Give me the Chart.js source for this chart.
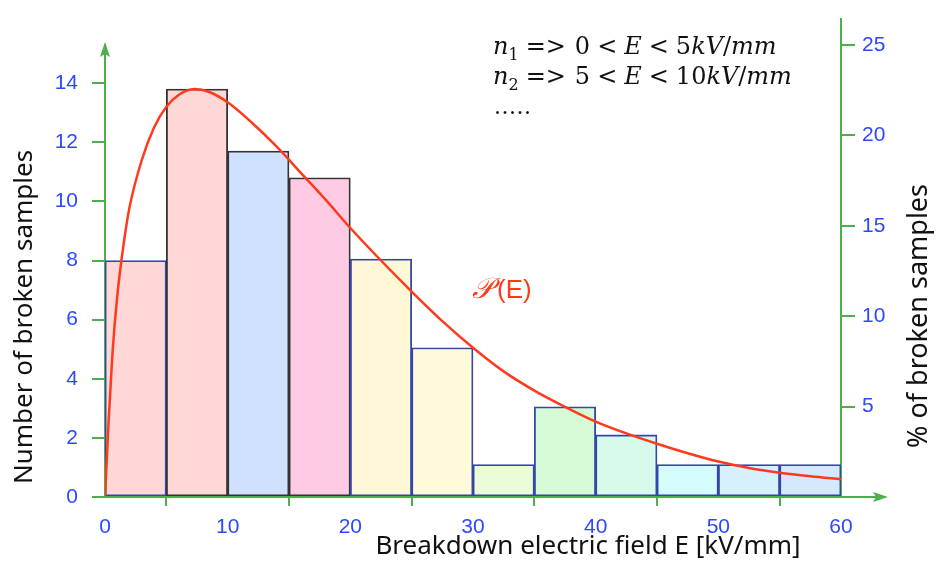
<!DOCTYPE html>
<html>
<head>
<meta charset="utf-8">
<script src="https://cdn.jsdelivr.net/npm/chart.js@4/dist/chart.umd.min.js"></script>
<style>
  html, body { margin: 0; padding: 0; background: #fff; }
  #wrap { width: 936px; height: 569px; position: relative; }
</style>
</head>
<body>
<div id="wrap"><canvas id="histChart"></canvas></div>
<script>
// histogram bins (kV/mm) and number of broken samples per bin
const binStarts = [0, 5, 10, 15, 20, 25, 30, 35, 40, 45, 50, 55];
const binWidth = 5;
const counts = [8, 13.8, 11.7, 10.8, 8.05, 5.05, 1.1, 3.05, 2.1, 1.1, 1.1, 1.1];

// fitted distribution P(E)
const curveE = [0, 0.3, 0.6, 1, 1.5, 2, 3, 4, 5, 6, 7.3, 8.5, 10, 12, 14, 16, 18, 20, 22.5, 25,
                27.5, 30, 32.5, 35, 37.5, 40, 42.5, 45, 47.5, 50, 52.5, 55, 57.5, 60];
const curveN = [0, 2.6, 4.8, 6.8, 8.5, 9.8, 11.4, 12.5, 13.2, 13.6, 13.8, 13.7, 13.35, 12.65, 11.85, 10.95, 10.05, 9.1, 8.0, 6.95,
                5.95, 5.05, 4.25, 3.6, 3.05, 2.55, 2.15, 1.8, 1.48, 1.2, 0.98, 0.82, 0.7, 0.6];

// tick labels
const xTicks = [0, 10, 20, 30, 40, 50, 60];
const leftTicks = [0, 2, 4, 6, 8, 10, 12, 14];
const rightTicks = [5, 10, 15, 20, 25];

const barFills = ['#ffd7d7', '#ffd7d7', '#d0e0ff', '#ffcae3', '#fff7d6', '#fffbd8', '#eafcd8',
                  '#d6fad6', '#d6fbea', '#d6fdfd', '#d6f1fd', '#d6e8fb'];
const barEdges = ['#3446a8', '#333333', '#333333', '#333333', '#3446a8', '#3446a8', '#3446a8',
                  '#3446a8', '#3446a8', '#3446a8', '#3446a8', '#3446a8'];

const green = '#4cae4c';
const blue = '#2d48ff';

const decor = {
    id: 'decor',
    afterDraw(chart) {
        const ctx = chart.ctx;
        const a = chart.chartArea;
        const x0 = chart.scales.x.getPixelForValue(0);
        const x60 = chart.scales.x.getPixelForValue(60);
        ctx.save();
        ctx.strokeStyle = green;
        ctx.fillStyle = green;
        ctx.lineWidth = 2;

        // x axis extension with arrow
        ctx.beginPath();
        ctx.moveTo(92, a.bottom);
        ctx.lineTo(878, a.bottom);
        ctx.stroke();
        ctx.beginPath();
        ctx.moveTo(888, a.bottom);
        ctx.lineTo(873, a.bottom - 5);
        ctx.lineTo(876, a.bottom);
        ctx.lineTo(873, a.bottom + 5);
        ctx.closePath();
        ctx.fill();

        // left axis arrow
        ctx.beginPath();
        ctx.moveTo(x0, a.top - 3);
        ctx.lineTo(x0 - 5, a.top + 12);
        ctx.lineTo(x0, a.top + 9);
        ctx.lineTo(x0 + 5, a.top + 12);
        ctx.closePath();
        ctx.fill();

        // right axis runs past 25 %
        ctx.beginPath();
        ctx.moveTo(x60, a.top);
        ctx.lineTo(x60, 18);
        ctx.stroke();

        // axis titles
        ctx.fillStyle = '#111';
        ctx.font = '26px "Noto Sans"';
        ctx.textAlign = 'center';
        ctx.textBaseline = 'middle';
        ctx.fillText('Breakdown electric field E [kV/mm]', 588, 547);
        ctx.save();
        ctx.translate(25, 317);
        ctx.rotate(-Math.PI / 2);
        ctx.fillText('Number of broken samples', 0, 0);
        ctx.restore();
        ctx.save();
        ctx.font = '27px "Noto Sans"';
        ctx.translate(919, 316);
        ctx.rotate(-Math.PI / 2);
        ctx.fillText('% of broken samples', 0, 0);
        ctx.restore();

        // curve label
        ctx.fillStyle = '#ff3a1c';
        ctx.textAlign = 'left';
        ctx.textBaseline = 'alphabetic';
        ctx.font = 'italic 29px "Liberation Serif"';
        ctx.fillText('\u{1D4AB}', 472, 298);
        ctx.font = '26px "Liberation Sans"';
        ctx.fillText('(E)', 497, 298);

        // bin legend
        drawRich(ctx, 493, 54, [['n', 'i'], ['1', 's'], [7], ['=>', 'r'], [9], ['0', 'r'], [7], ['<', 'r'], [7],
                                ['E', 'i'], [7], ['<', 'r'], [7], ['5', 'r'], ['kV', 'i'], ['/', 'r'], ['mm', 'i']]);
        drawRich(ctx, 493, 84, [['n', 'i'], ['2', 's'], [7], ['=>', 'r'], [9], ['5', 'r'], [7], ['<', 'r'], [7],
                                ['E', 'i'], [7], ['<', 'r'], [7], ['10', 'r'], ['kV', 'i'], ['/', 'r'], ['mm', 'i']]);
        drawRich(ctx, 494, 114, [['.....', 'd']]);
        ctx.restore();
    }
};

// draws a line of math-like text; a one-element entry is a gap in px
function drawRich(ctx, x, y, parts) {
    ctx.fillStyle = '#111';
    ctx.textAlign = 'left';
    ctx.textBaseline = 'alphabetic';
    for (const [txt, st] of parts) {
        if (st === undefined) { x += txt; continue; }
        ctx.letterSpacing = '0px';
        if (st === 'i') ctx.font = 'italic 24px "DejaVu Serif"';
        else if (st === 's') ctx.font = '16px "DejaVu Serif"';
        else if (st === 'd') { ctx.font = '22px "DejaVu Serif"'; ctx.letterSpacing = '0.5px'; }
        else ctx.font = '24px "DejaVu Serif"';
        ctx.fillText(txt, x, st === 's' ? y + 6 : y);
        x += ctx.measureText(txt).width;
    }
    ctx.letterSpacing = '0px';
}

const tickFont = { family: '"Liberation Sans", Arial, sans-serif', size: 21 };

const ctx = document.getElementById('histChart').getContext('2d');
new Chart(ctx, {
    type: 'bar',
    data: {
        datasets: [{
            type: 'line',
            data: curveE.map((e, i) => ({ x: e, y: curveN[i] })),
            borderColor: '#ff3a1c',
            borderWidth: 2.5,
            pointRadius: 0,
            cubicInterpolationMode: 'monotone',
            yAxisID: 'y',
            order: 0
        }, {
            data: binStarts.map((s, i) => ({ x: s + binWidth / 2, y: counts[i] })),
            backgroundColor: barFills,
            borderColor: barEdges,
            borderWidth: 1.8,
            borderSkipped: false,
            barPercentage: 1,
            categoryPercentage: 1,
            yAxisID: 'y',
            order: 1
        }]
    },
    options: {
        responsive: true,
        maintainAspectRatio: false,
        animation: false,
        layout: { padding: { top: 45 } },
        scales: {
            x: {
                type: 'linear',
                min: 0,
                max: 60,
                offset: false,
                afterBuildTicks: s => { s.ticks = xTicks.map(v => ({ value: v })); },
                afterFit: s => { s.height = 72; },
                grid: { drawOnChartArea: false, color: green, lineWidth: 2, tickLength: 9 },
                border: { color: green, width: 2 },
                ticks: { color: blue, font: tickFont, padding: 9, maxRotation: 0 }
            },
            y: {
                position: 'left',
                min: 0,
                max: 15.29,
                afterBuildTicks: s => { s.ticks = leftTicks.map(v => ({ value: v })); },
                afterFit: s => { s.width = 105; },
                grid: { drawOnChartArea: false, color: green, lineWidth: 2, tickLength: 13 },
                border: { color: green, width: 2 },
                ticks: { color: blue, font: tickFont, padding: 14 }
            },
            y2: {
                display: true,
                position: 'right',
                min: 0,
                max: 25,
                afterBuildTicks: s => { s.ticks = rightTicks.map(v => ({ value: v })); },
                afterFit: s => { s.width = 95; },
                grid: { drawOnChartArea: false, color: green, lineWidth: 2, tickLength: 14 },
                border: { color: green, width: 2 },
                ticks: { color: blue, font: tickFont, padding: 7 }
            }
        },
        plugins: {
            legend: { display: false },
            tooltip: { enabled: false }
        }
    },
    plugins: [decor]
});
</script>
</body>
</html>
